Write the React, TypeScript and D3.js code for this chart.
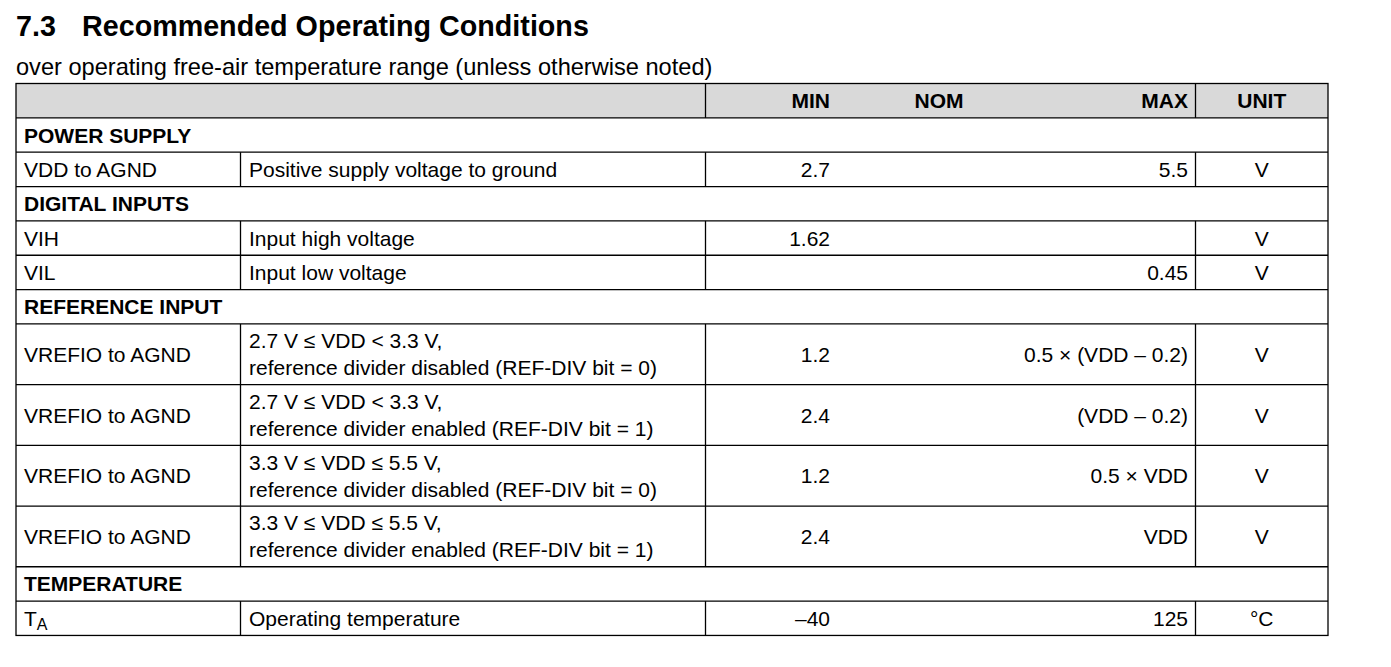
import React from "react";
import * as d3 from "d3";

const titleNumber = "7.3";
const titleText = "Recommended Operating Conditions";
const subtitle = "over operating free-air temperature range (unless otherwise noted)";
const headerLabels = ["MIN", "NOM", "MAX", "UNIT"];

const sections = ["POWER SUPPLY", "DIGITAL INPUTS", "REFERENCE INPUT", "TEMPERATURE"];
const rowSection = [0, 1, 1, 2, 2, 2, 2, 3];
const parameters = [
  "VDD to AGND",
  "VIH",
  "VIL",
  "VREFIO to AGND",
  "VREFIO to AGND",
  "VREFIO to AGND",
  "VREFIO to AGND",
  "T|A",
];
const conditions: string[][] = [
  ["Positive supply voltage to ground"],
  ["Input high voltage"],
  ["Input low voltage"],
  ["2.7 V ≤ VDD < 3.3 V,", "reference divider disabled (REF-DIV bit = 0)"],
  ["2.7 V ≤ VDD < 3.3 V,", "reference divider enabled (REF-DIV bit = 1)"],
  ["3.3 V ≤ VDD ≤ 5.5 V,", "reference divider disabled (REF-DIV bit = 0)"],
  ["3.3 V ≤ VDD ≤ 5.5 V,", "reference divider enabled (REF-DIV bit = 1)"],
  ["Operating temperature"],
];
const minValues = ["2.7", "1.62", "", "1.2", "2.4", "1.2", "2.4", "–40"];
const nomValues = ["", "", "", "", "", "", "", ""];
const maxValues = ["5.5", "", "0.45", "0.5 × (VDD – 0.2)", "(VDD – 0.2)", "0.5 × VDD", "VDD", "125"];
const units = ["V", "V", "V", "V", "V", "V", "V", "°C"];

// layout
const W = 1391;
const H = 667;
const FONT = "'Liberation Sans', Arial, Helvetica, sans-serif";
const BODY = 21;
const colEdges = [16, 240.5, 705.5, 1195.5, 1328];
const tableTop = 83.5;
const singleH = 34.35;
const doubleH = 60.7;

type Row =
  | { kind: "header" }
  | { kind: "section"; label: string }
  | { kind: "data"; i: number };

export default function App() {
  const rows: Row[] = [{ kind: "header" }];
  let lastSec = -1;
  parameters.forEach((_, i) => {
    if (rowSection[i] !== lastSec) {
      lastSec = rowSection[i];
      rows.push({ kind: "section", label: sections[lastSec] });
    }
    rows.push({ kind: "data", i });
  });
  const heights = rows.map((r) => (r.kind === "data" && conditions[r.i].length > 1 ? doubleH : singleH));
  const cum = Array.from(d3.cumsum(heights));
  const tops = heights.map((h, k) => tableTop + (k === 0 ? 0 : cum[k - 1]));
  const y = d3.scaleLinear().domain([0, cum[cum.length - 1]]).range([tableTop, tableTop + cum[cum.length - 1]]);
  const tableBottom = y(cum[cum.length - 1]);

  const x = d3.scaleLinear().domain([0, 1]).range([colEdges[0], colEdges[4]]);
  const left = x(0);
  const right = x(1);

  const minRight = 830;
  const nomCenter = 939;
  const maxRight = 1188;
  const unitCenter = (colEdges[3] + colEdges[4]) / 2;

  const stroke = "#000";
  const sw = 1.3;
  const base = (top: number, h: number) => top + h / 2 + 7.5;

  return (
    <svg width={W} height={H} style={{ position: "absolute", left: 0, top: 0, background: "#fff" }} fontFamily={FONT}>
      <rect x={0} y={0} width={W} height={H} fill="#fff" />
      <text x={16} y={36} fontSize={28.7} fontWeight="bold" fill="#000">{titleNumber}</text>
      <text x={82} y={36} fontSize={28.7} fontWeight="bold" fill="#000">{titleText}</text>
      <text x={16} y={75} fontSize={23.6} fill="#000">{subtitle}</text>

      {rows.map((r, k) => {
        const top = tops[k];
        const h = heights[k];
        const bl = base(top, h);
        if (r.kind === "header") {
          return (
            <g key={k}>
              <rect x={left} y={top} width={right - left} height={h} fill="#d9d9d9" />
              <text x={minRight} y={bl} fontSize={BODY} fontWeight="bold" textAnchor="end">{headerLabels[0]}</text>
              <text x={nomCenter} y={bl} fontSize={BODY} fontWeight="bold" textAnchor="middle">{headerLabels[1]}</text>
              <text x={maxRight} y={bl} fontSize={BODY} fontWeight="bold" textAnchor="end">{headerLabels[2]}</text>
              <text x={unitCenter} y={bl} fontSize={BODY} fontWeight="bold" textAnchor="middle">{headerLabels[3]}</text>
              <line x1={colEdges[2]} x2={colEdges[2]} y1={top} y2={top + h} stroke={stroke} strokeWidth={sw} />
              <line x1={colEdges[3]} x2={colEdges[3]} y1={top} y2={top + h} stroke={stroke} strokeWidth={sw} />
            </g>
          );
        }
        if (r.kind === "section") {
          return (
            <g key={k}>
              <text x={24} y={bl} fontSize={BODY} fontWeight="bold">{r.label}</text>
            </g>
          );
        }
        const i = r.i;
        const cond = conditions[i];
        const param = parameters[i];
        const [pMain, pSub] = param.split("|");
        return (
          <g key={k}>
            {[colEdges[1], colEdges[2], colEdges[3]].map((cx, j) => (
              <line key={j} x1={cx} x2={cx} y1={top} y2={top + h} stroke={stroke} strokeWidth={sw} />
            ))}
            <text x={24} y={bl} fontSize={BODY}>
              {pMain}
              {pSub ? (
                <tspan fontSize={16} dy={4}>{pSub}</tspan>
              ) : null}
            </text>
            {cond.length === 1 ? (
              <text x={249} y={bl} fontSize={BODY}>{cond[0]}</text>
            ) : (
              cond.map((c, j) => (
                <text key={j} x={249} y={bl + (j === 0 ? -13.5 : 13.5)} fontSize={BODY}>{c}</text>
              ))
            )}
            <text x={minRight} y={bl} fontSize={BODY} textAnchor="end">{minValues[i]}</text>
            <text x={nomCenter} y={bl} fontSize={BODY} textAnchor="middle">{nomValues[i]}</text>
            <text x={maxRight} y={bl} fontSize={BODY} textAnchor="end">{maxValues[i]}</text>
            <text x={unitCenter} y={bl} fontSize={BODY} textAnchor="middle">{units[i]}</text>
          </g>
        );
      })}

      {tops.slice(1).map((t, k) => (
        <line key={k} x1={left} x2={right} y1={t} y2={t} stroke={stroke} strokeWidth={sw} />
      ))}
      <rect x={left} y={tableTop} width={right - left} height={tableBottom - tableTop} fill="none" stroke={stroke} strokeWidth={sw} />
    </svg>
  );
}
